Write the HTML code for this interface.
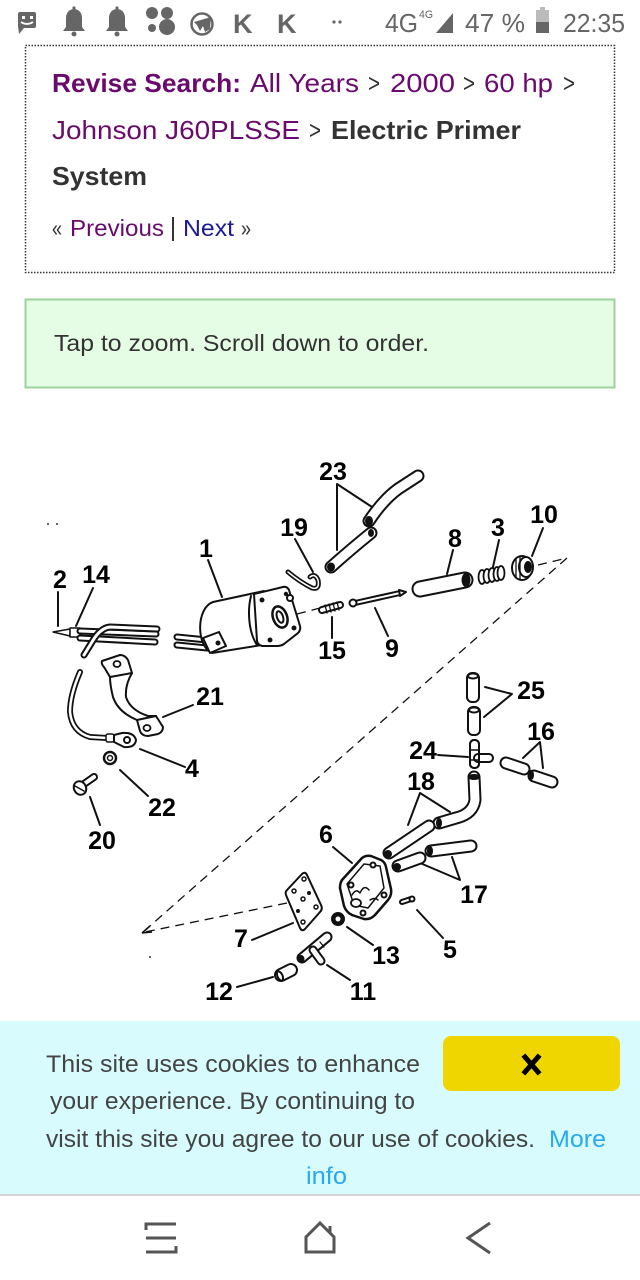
<!DOCTYPE html>
<html><head><meta charset="utf-8">
<style>
html,body{margin:0;padding:0;background:#fff;width:640px;height:1280px;overflow:hidden}
svg{display:block}
text{font-family:"Liberation Sans",Arial,sans-serif}
.lb{font-weight:bold;font-size:25px;fill:#000;text-anchor:middle}
</style></head><body>
<svg width="640" height="1280" viewBox="0 0 640 1280" xmlns="http://www.w3.org/2000/svg">
<rect width="640" height="1280" fill="#fff"/>

<!-- STATUS BAR -->
<g fill="#666">
  <rect x="18" y="12" width="18" height="16" rx="2"/>
  <polygon points="18,26 24,28 19,34"/>
  <rect x="22" y="16" width="3" height="3" fill="#fff"/>
  <rect x="30" y="16" width="3" height="3" fill="#fff"/>
  <path d="M21,22 Q27,26 33,22" stroke="#fff" stroke-width="1.8" fill="none"/>
  <path d="M63,31 L85,31 L82,27 L82,18 C82,12 78,9 74,9 C70,9 66,12 66,18 L66,27 Z"/>
  <circle cx="74" cy="34" r="2.5"/><circle cx="74" cy="8" r="1.6"/>
  <path d="M106,31 L128,31 L125,27 L125,18 C125,12 121,9 117,9 C113,9 109,12 109,18 L109,27 Z"/>
  <circle cx="117" cy="34" r="2.5"/><circle cx="117" cy="8" r="1.6"/>
  <circle cx="152" cy="13" r="6"/><circle cx="167" cy="13" r="6"/>
  <circle cx="152" cy="28" r="4"/><circle cx="167" cy="27" r="8"/>
  <circle cx="202" cy="24" r="10.5" fill="none" stroke="#666" stroke-width="2.5"/>
  <path d="M194,22 L211,17 L210,29 L205,32 L203,26 L200,31 L197,25 Z"/>
  <text x="233" y="33" font-size="27" font-weight="bold" textLength="23">K</text>
  <text x="277" y="33" font-size="27" font-weight="bold" textLength="22">K</text>
  <circle cx="334" cy="22" r="1.6"/><circle cx="340" cy="22" r="1.6"/>
  <text x="385" y="32" font-size="26" textLength="33" lengthAdjust="spacingAndGlyphs">4G</text>
  <text x="419" y="18" font-size="11" textLength="14" lengthAdjust="spacingAndGlyphs">4G</text>
  <polygon points="436,33 453,33 453,13"/>
  <text x="465" y="32" font-size="26" textLength="60" lengthAdjust="spacingAndGlyphs">47 %</text>
  <rect x="540" y="7" width="5" height="3" fill="#bbb"/>
  <rect x="536" y="10" width="13" height="23" fill="#bbb"/>
  <rect x="536" y="22" width="13" height="11"/>
  <text x="563" y="32" font-size="26" textLength="62" lengthAdjust="spacingAndGlyphs">22:35</text>
</g>

<!-- BREADCRUMB BOX -->
<rect x="25.5" y="45.5" width="589" height="227" fill="none" stroke="#333" stroke-width="1.5" stroke-dasharray="1.5,1.5"/>
<g font-size="26">
  <text x="52" y="92" font-weight="bold" fill="#6b0a6e" textLength="189" lengthAdjust="spacingAndGlyphs">Revise Search:</text>
  <text x="250" y="92" fill="#6b0a6e" textLength="109" lengthAdjust="spacingAndGlyphs">All Years</text>
  <text x="368" y="92" fill="#333" textLength="12" lengthAdjust="spacingAndGlyphs">&gt;</text>
  <text x="390" y="92" fill="#6b0a6e" textLength="65" lengthAdjust="spacingAndGlyphs">2000</text>
  <text x="463" y="92" fill="#333" textLength="12" lengthAdjust="spacingAndGlyphs">&gt;</text>
  <text x="484" y="92" fill="#6b0a6e" textLength="69" lengthAdjust="spacingAndGlyphs">60 hp</text>
  <text x="563" y="92" fill="#333" textLength="12" lengthAdjust="spacingAndGlyphs">&gt;</text>
  <text x="52" y="139" fill="#6b0a6e" textLength="248" lengthAdjust="spacingAndGlyphs">Johnson J60PLSSE</text>
  <text x="309" y="139" fill="#333" textLength="12" lengthAdjust="spacingAndGlyphs">&gt;</text>
  <text x="331" y="139" font-weight="bold" fill="#333" textLength="190" lengthAdjust="spacingAndGlyphs">Electric Primer</text>
  <text x="52" y="185" font-weight="bold" fill="#333" textLength="95" lengthAdjust="spacingAndGlyphs">System</text>
</g>
<g font-size="23">
  <text x="52" y="236" fill="#333" textLength="10" lengthAdjust="spacingAndGlyphs">«</text>
  <text x="70" y="236" fill="#6b0a6e" textLength="94" lengthAdjust="spacingAndGlyphs">Previous</text>
  <rect x="172" y="217" width="2" height="24" fill="#333"/>
  <text x="183" y="236" fill="#1a1a99" textLength="51" lengthAdjust="spacingAndGlyphs">Next</text>
  <text x="241" y="236" fill="#333" textLength="10" lengthAdjust="spacingAndGlyphs">»</text>
</g>

<!-- GREEN BOX -->
<rect x="25.5" y="299.5" width="589" height="88" fill="#e5fde5" stroke="#9bd39b" stroke-width="2"/>
<text x="54" y="351" font-size="23" fill="#333" textLength="375" lengthAdjust="spacingAndGlyphs">Tap to zoom. Scroll down to order.</text>

<!-- DIAGRAM -->
<g fill="none" stroke="#111" stroke-width="1.3" stroke-dasharray="9,6">
  <line x1="567" y1="558" x2="142" y2="933"/>
  <line x1="538" y1="565" x2="567" y2="558"/>
  <line x1="287" y1="903" x2="145" y2="932"/>
  <line x1="297" y1="614" x2="320" y2="608"/>
</g>
<g stroke="#111" stroke-width="1.5" fill="none">
  <line x1="142" y1="933" x2="150" y2="926"/>
  <line x1="142" y1="933" x2="152" y2="932"/>
</g>
<circle cx="48" cy="524" r="1" fill="#333"/><circle cx="57" cy="524" r="1" fill="#333"/>
<circle cx="150" cy="957" r="1" fill="#333"/>

<g stroke="#111" stroke-width="2" fill="#fff" stroke-linejoin="round" stroke-linecap="round">
  <!-- label leader lines -->
  <g fill="none">
    <line x1="58" y1="592" x2="58" y2="626"/>
    <line x1="93" y1="588" x2="76" y2="626"/>
    <line x1="208" y1="560" x2="222" y2="597"/>
    <line x1="295" y1="539" x2="313" y2="572"/>
    <polyline points="337,550 337,484 372,507"/>
    <line x1="453" y1="550" x2="447" y2="574"/>
    <line x1="499" y1="540" x2="493" y2="567"/>
    <line x1="543" y1="528" x2="532" y2="556"/>
    <line x1="332" y1="617" x2="332" y2="638"/>
    <line x1="375" y1="608" x2="388" y2="636"/>
    <polyline points="485,687 512,694 484,717"/>
    <line x1="193" y1="705" x2="163" y2="717"/>
    <line x1="140" y1="749" x2="185" y2="767"/>
    <line x1="120" y1="770" x2="148" y2="796"/>
    <line x1="90" y1="797" x2="100" y2="825"/>
    <line x1="438" y1="755" x2="468" y2="757"/>
    <polyline points="523,758 540,742 543,768"/>
    <polyline points="408,825 420,793 450,812"/>
    <polyline points="420,863 460,880 452,857"/>
    <line x1="333" y1="847" x2="352" y2="863"/>
    <line x1="417" y1="910" x2="443" y2="938"/>
    <line x1="347" y1="927" x2="373" y2="945"/>
    <line x1="252" y1="940" x2="293" y2="923"/>
    <line x1="327" y1="965" x2="350" y2="980"/>
    <line x1="237" y1="987" x2="273" y2="977"/>
  </g>

  <!-- wire 2 / 14 -->
  <path d="M53,632 L70,629 L70,636 Z" stroke-width="1.5"/>
  <rect x="70" y="628" width="10" height="9" stroke-width="1.5"/>
  <path d="M80,631 L156,634" stroke-width="7"/><path d="M80,631 L156,634" stroke="#fff" stroke-width="3"/>
  <path d="M80,638 L155,642" stroke-width="7"/><path d="M80,638 L155,642" stroke="#fff" stroke-width="3"/>
  <path d="M157,629 L110,627 Q100,628 92,642 L84,655" fill="none" stroke-width="7"/>
  <path d="M157,629 L110,627 Q100,628 92,642 L84,655" fill="none" stroke="#fff" stroke-width="3"/>

  <!-- solenoid 1 -->
  <path d="M177,637 L207,640" stroke-width="7"/><path d="M177,637 L207,640" stroke="#fff" stroke-width="3"/>
  <path d="M177,645 L207,648" stroke-width="7"/><path d="M177,645 L207,648" stroke="#fff" stroke-width="3"/>
  <path d="M264,591 L213,602 C196,608 196,646 212,653 L262,645 Z"/>
  <path d="M251,596 C247,612 249,633 257,645" fill="none"/>
  <path d="M254,594 L283,587 Q287,586 289,590 L300,626 Q301,630 298,633 L284,644 Q281,646 277,646 L262,646 Q258,645 257,641 Z"/>
  <ellipse cx="280" cy="617" rx="7" ry="11" transform="rotate(-20 280 617)" stroke-width="2.5"/>
  <ellipse cx="280" cy="617" rx="3" ry="6" transform="rotate(-20 280 617)"/>
  <circle cx="290" cy="598" r="3"/>
  <circle cx="262" cy="600" r="1.5" fill="#111"/><circle cx="294" cy="628" r="1.5" fill="#111"/>
  <circle cx="270" cy="640" r="1.5" fill="#111"/><circle cx="286" cy="594" r="1.2" fill="#111"/>
  <polygon points="203,638 219,632 226,646 210,653"/>
  <circle cx="218" cy="643" r="1.5" fill="#111"/>

  <!-- clip 19 -->
  <path d="M288,572 Q300,582 312,588 Q320,590 318,580 Q315,573 310,577" fill="none" stroke-width="5"/>
  <path d="M288,572 Q300,582 312,588 Q320,590 318,580 Q315,573 310,577" fill="none" stroke="#fff" stroke-width="1.5"/>

  <!-- hoses 23 -->
  <path d="M369,521 Q383,500 398,489 L418,476" fill="none" stroke-width="13"/>
  <path d="M369,521 Q383,500 398,489 L418,476" fill="none" stroke="#fff" stroke-width="9"/>
  <ellipse cx="369" cy="521" rx="3" ry="4" fill="#111"/>
  <path d="M331,567 Q350,550 371,533" fill="none" stroke-width="13"/>
  <path d="M331,567 Q350,550 371,533" fill="none" stroke="#fff" stroke-width="9"/>
  <ellipse cx="331" cy="567" rx="3" ry="3.5" fill="#111"/>
  <ellipse cx="371" cy="533" rx="2" ry="3" fill="#111"/>

  <!-- spring 15 -->
  <path d="M322,610 L340,605" stroke-width="8"/><path d="M322,610 L340,605" stroke="#fff" stroke-width="4"/>
  <g fill="none" stroke-width="1.3"><line x1="325" y1="605" x2="327" y2="613"/><line x1="329" y1="604" x2="331" y2="612"/><line x1="333" y1="603" x2="335" y2="611"/><line x1="337" y1="602" x2="339" y2="610"/></g>

  <!-- pin 9 -->
  <path d="M355,603 L400,593" stroke-width="6"/><path d="M355,603 L400,593" stroke="#fff" stroke-width="2"/>
  <circle cx="353" cy="603" r="3.5"/>
  <polygon points="399,590 406,592 400,596"/>

  <!-- tube 8 -->
  <path d="M420,589 L465,580" stroke-width="17"/><path d="M420,589 L465,580" stroke="#fff" stroke-width="13"/>
  <ellipse cx="466" cy="580" rx="3.5" ry="6" fill="#111"/>

  <!-- spring 3 -->
  <g stroke-width="1.8">
    <ellipse cx="482" cy="577" rx="3.5" ry="7"/>
    <ellipse cx="487" cy="576" rx="3.5" ry="7"/>
    <ellipse cx="492" cy="575" rx="3.5" ry="7"/>
    <ellipse cx="497" cy="574" rx="3.5" ry="7"/>
    <ellipse cx="501" cy="573" rx="3.5" ry="7"/>
  </g>

  <!-- nut 10 -->
  <ellipse cx="522" cy="568" rx="10" ry="12"/>
  <ellipse cx="526" cy="567" rx="7" ry="10"/>
  <ellipse cx="528" cy="567" rx="3" ry="5" fill="#111"/>
  <g fill="none" stroke-width="1.3"><line x1="516" y1="558" x2="516" y2="578"/><line x1="520" y1="557" x2="520" y2="579"/></g>

  <!-- bracket 21 -->
  <path d="M102,661 L120,655 Q125,655 128,660 L132,673 Q125,685 126,697 Q130,710 148,716 L156,716 L163,727 Q163,732 158,734 L148,736 Q142,736 140,731 L137,720 Q118,712 113,697 Q110,685 110,677 L104,667 Q101,664 102,661 Z"/>
  <path d="M110,677 L132,673" fill="none"/>
  <path d="M137,720 L156,716" fill="none"/>
  <ellipse cx="117" cy="664" rx="3.5" ry="3" stroke-width="1.8"/>
  <ellipse cx="147" cy="728" rx="3.5" ry="3" stroke-width="1.8"/>

  <!-- ground wire 4 -->
  <path d="M80,672 Q70,695 70,712 Q72,732 90,737 L107,738" fill="none" stroke-width="6"/>
  <path d="M80,672 Q70,695 70,712 Q72,732 90,737 L107,738" fill="none" stroke="#fff" stroke-width="2.5"/>
  <rect x="106" y="734" width="8" height="8" rx="2" stroke-width="1.5"/>
  <path d="M114,735 L122,733 Q134,732 136,740 Q135,748 124,747 L114,742 Z"/>
  <circle cx="127" cy="740" r="3"/>

  <!-- star washer 22 -->
  <circle cx="110" cy="758" r="6" stroke-dasharray="2,1.2" stroke-width="2.5"/>
  <circle cx="110" cy="758" r="2.5" stroke-width="1.5"/>

  <!-- screw 20 -->
  <path d="M84,784 L94,777" stroke-width="8"/><path d="M84,784 L94,777" stroke="#fff" stroke-width="4"/>
  <ellipse cx="80" cy="788" rx="6" ry="7" transform="rotate(-30 80 788)"/>
  <line x1="75" y1="786" x2="84" y2="791" stroke-width="1.5"/>

  <!-- tubes 25 -->
  <rect x="467" y="673" width="12" height="29" rx="5"/>
  <ellipse cx="473" cy="676" rx="5" ry="2.5"/>
  <rect x="468" y="707" width="12" height="28" rx="5"/>
  <ellipse cx="474" cy="710" rx="5" ry="2.5"/>

  <!-- tee 24 -->
  <rect x="470" y="740" width="9" height="28" rx="4"/>
  <rect x="474" y="754" width="19" height="8" rx="4"/>
  <rect x="470" y="740" width="9" height="28" rx="4" fill="none"/>
  <line x1="470" y1="750" x2="479" y2="750" stroke-width="1.5"/>
  <line x1="470" y1="760" x2="479" y2="760" stroke-width="1.5"/>

  <!-- tubes 16 -->
  <path d="M506,763 L524,769" stroke-width="13"/><path d="M506,763 L524,769" stroke="#fff" stroke-width="9"/>
  <path d="M534,776 L552,782" stroke-width="13"/><path d="M534,776 L552,782" stroke="#fff" stroke-width="9"/>
  <ellipse cx="531" cy="775" rx="2" ry="4" fill="#111"/>

  <!-- hose 18 -->
  <path d="M474,777 L475,800 Q473,814 456,818 L439,823" fill="none" stroke-width="13"/>
  <path d="M474,777 L475,800 Q473,814 456,818 L439,823" fill="none" stroke="#fff" stroke-width="9"/>
  <ellipse cx="474" cy="777" rx="5" ry="2" fill="#111"/>
  <ellipse cx="439" cy="823" rx="2" ry="4" fill="#111"/>
  <path d="M389,853 L429,826" stroke-width="13"/><path d="M389,853 L429,826" stroke="#fff" stroke-width="9"/>
  <ellipse cx="388" cy="854" rx="3" ry="3" fill="#111"/>

  <!-- tubes 17 -->
  <path d="M398,866 L420,858" stroke-width="13"/><path d="M398,866 L420,858" stroke="#fff" stroke-width="9"/>
  <ellipse cx="397" cy="867" rx="3" ry="3" fill="#111"/>
  <path d="M431,851 L471,846" stroke-width="13"/><path d="M431,851 L471,846" stroke="#fff" stroke-width="9"/>
  <ellipse cx="430" cy="851" rx="2" ry="4" fill="#111"/>

  <!-- pump body 6 -->
  <path d="M342,880 L362,858 Q366,855 371,856 L381,860 Q385,862 386,867 L391,889 Q392,895 388,900 L375,915 Q370,920 364,919 L352,915 Q346,912 344,906 L340,888 Q340,883 342,880 Z" stroke-width="2.5"/>
  <path d="M347,884 L364,864 L380,866 L384,888 L368,908 L354,905 Z" fill="none" stroke-width="1.5"/>
  <circle cx="351" cy="885" r="2.5"/><circle cx="373" cy="865" r="2.5"/>
  <circle cx="384" cy="895" r="2.5"/><circle cx="363" cy="913" r="2.5"/>
  <path d="M352,895 Q356,888 360,893 Q364,884 369,890" fill="none" stroke-width="1.5"/>
  <ellipse cx="356" cy="903" rx="5" ry="4" stroke-width="1.8"/>
  <path d="M370,900 Q375,897 378,900" fill="none" stroke-width="1.5"/>

  <!-- screw 5 -->
  <path d="M402,902 L411,899" stroke-width="6"/><path d="M402,902 L411,899" stroke="#fff" stroke-width="2"/>
  <circle cx="412" cy="899" r="2.5"/>

  <!-- washer 13 -->
  <circle cx="338" cy="919" r="6" fill="#111"/>
  <circle cx="338" cy="919" r="2.5" fill="#fff" stroke="none"/>

  <!-- plate 7 -->
  <path d="M287,890 L302,874 Q305,871 307,875 L321,905 Q323,909 320,912 L305,929 Q302,932 300,928 L286,895 Q285,892 287,890 Z"/>
  <g fill="none" stroke-width="1.5">
    <circle cx="294" cy="891" r="2"/><circle cx="304" cy="879" r="2"/>
    <circle cx="316" cy="907" r="2"/><circle cx="303" cy="922" r="2"/>
    <circle cx="303" cy="899" r="2"/>
  </g>
  <circle cx="298" cy="911" r="1" fill="#111"/><circle cx="309" cy="893" r="1" fill="#111"/>

  <!-- tee 11 -->
  <path d="M302,958 L327,937" stroke-width="11"/><path d="M302,958 L327,937" stroke="#fff" stroke-width="7"/>
  <path d="M313,950 L321,961" stroke-width="9"/><path d="M313,950 L321,961" stroke="#fff" stroke-width="5"/>
  <ellipse cx="301" cy="959" rx="2.5" ry="3" fill="#111"/>
  <line x1="320" y1="942" x2="324" y2="947" stroke-width="1.3"/>

  <!-- cap 12 -->
  <path d="M281,975 L291,970" stroke-width="14"/><path d="M281,975 L291,970" stroke="#fff" stroke-width="10"/>
  <ellipse cx="280" cy="976" rx="2.5" ry="5" transform="rotate(-25 280 976)"/>
</g>

<!-- labels -->
<g class="lb">
  <text class="lb" x="333" y="480">23</text>
  <text class="lb" x="294" y="536">19</text>
  <text class="lb" x="206" y="557">1</text>
  <text class="lb" x="455" y="547">8</text>
  <text class="lb" x="498" y="536">3</text>
  <text class="lb" x="544" y="523">10</text>
  <text class="lb" x="60" y="588">2</text>
  <text class="lb" x="96" y="583">14</text>
  <text class="lb" x="332" y="659">15</text>
  <text class="lb" x="392" y="657">9</text>
  <text class="lb" x="531" y="699">25</text>
  <text class="lb" x="210" y="705">21</text>
  <text class="lb" x="541" y="740">16</text>
  <text class="lb" x="423" y="759">24</text>
  <text class="lb" x="192" y="777">4</text>
  <text class="lb" x="421" y="790">18</text>
  <text class="lb" x="162" y="816">22</text>
  <text class="lb" x="326" y="843">6</text>
  <text class="lb" x="102" y="849">20</text>
  <text class="lb" x="474" y="903">17</text>
  <text class="lb" x="241" y="947">7</text>
  <text class="lb" x="386" y="964">13</text>
  <text class="lb" x="450" y="958">5</text>
  <text class="lb" x="219" y="1000">12</text>
  <text class="lb" x="363" y="1000">11</text>
</g>

<!-- COOKIE BANNER -->
<rect x="0" y="1021" width="640" height="174" fill="#d8fcfd"/>
<rect x="0" y="1194" width="640" height="2" fill="#d6d6d6"/>
<rect x="443" y="1036" width="177" height="55" rx="8" fill="#f0d600"/>
<g stroke="#000" stroke-width="5" stroke-linecap="square">
  <line x1="525" y1="1057" x2="538" y2="1072"/>
  <line x1="538" y1="1057" x2="525" y2="1072"/>
</g>
<g font-size="24" fill="#444">
  <text x="46" y="1072" textLength="374" lengthAdjust="spacingAndGlyphs">This site uses cookies to enhance</text>
  <text x="50" y="1109" textLength="365" lengthAdjust="spacingAndGlyphs">your experience. By continuing to</text>
  <text x="46" y="1147" textLength="489" lengthAdjust="spacingAndGlyphs">visit this site you agree to our use of cookies.</text>
  <text x="549" y="1147" fill="#2aa8f0" textLength="57" lengthAdjust="spacingAndGlyphs">More</text>
  <text x="306" y="1184" fill="#2aa8f0" textLength="41" lengthAdjust="spacingAndGlyphs">info</text>
</g>

<!-- NAV BAR -->
<g stroke="#555" stroke-width="3" fill="none" stroke-linecap="butt">
  <polyline points="146,1230 146,1224 176,1224"/>
  <line x1="146" y1="1238" x2="176" y2="1238"/>
  <polyline points="146,1252 176,1252 176,1246"/>
  <path d="M306,1252 L306,1237 L320,1223 L334,1237 L334,1252 Z" stroke-linejoin="miter"/>
  <line x1="330" y1="1226" x2="330" y2="1233"/>
  <polyline points="490,1223 468,1238 490,1253" stroke-linejoin="miter"/>
</g>
</svg>
</body></html>
